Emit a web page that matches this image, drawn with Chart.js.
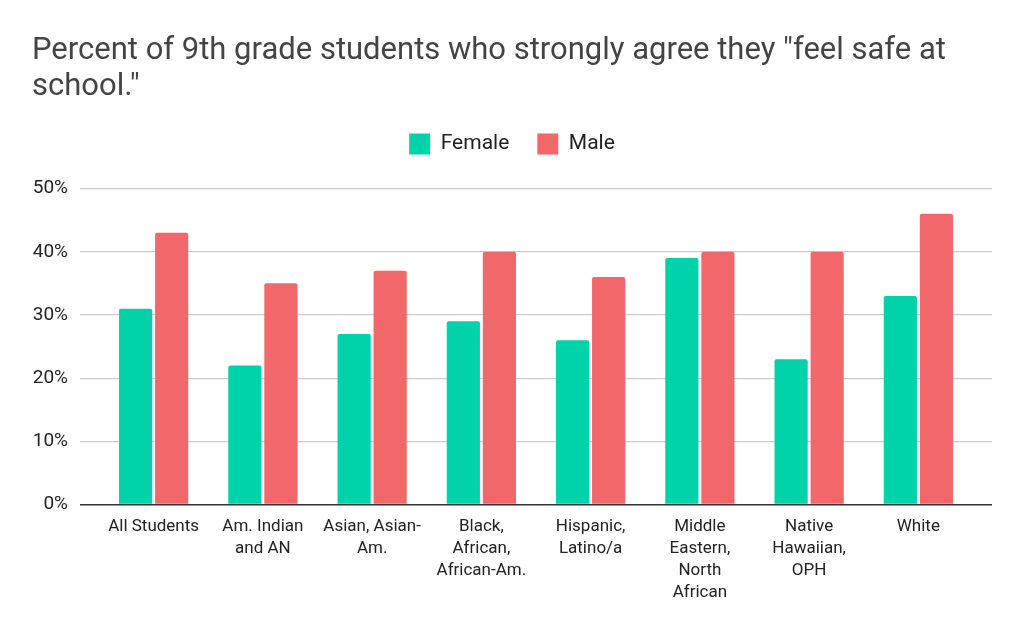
<!DOCTYPE html>
<html>
<head>
<meta charset="utf-8">
<script src="https://cdn.jsdelivr.net/npm/chart.js@4.4.1/dist/chart.umd.min.js"></script>
<style>
  html, body { margin: 0; padding: 0; background: #fff; }
  #wrap { width: 1024px; height: 633px; }
</style>
</head>
<body>
<div id="wrap"><canvas id="safeChart"></canvas></div>
<script>
const groups = [
  ['All Students'],
  ['Am. Indian', 'and AN'],
  ['Asian, Asian-', 'Am.'],
  ['Black,', 'African,', 'African-Am.'],
  ['Hispanic,', 'Latino/a'],
  ['Middle', 'Eastern,', 'North', 'African'],
  ['Native', 'Hawaiian,', 'OPH'],
  ['White']
];
const femaleValues = [31, 22, 27, 29, 26, 39, 23, 33];
const maleValues = [43, 35, 37, 40, 36, 40, 40, 46];
const yTicks = [0, 10, 20, 30, 40, 50];

const teal = '#00d3aa';
const coral = '#f1676a';

// x runs on a linear scale so the groups sit a bit in from the grid ends
const edge = 0.674;

// extra room under the legend
const legendGap = {
  id: 'legendGap',
  beforeLayout(chart) {
    const lg = chart.legend;
    if (lg && !lg._gap) {
      const fit = lg.fit;
      lg.fit = function () { fit.call(this); this.height += 24; };
      lg._gap = true;
    }
  }
};

new Chart('safeChart', {
  type: 'bar',
  data: {
    datasets: [{
      label: 'Female',
      data: femaleValues.map((v, i) => ({ x: i, y: v })),
      backgroundColor: teal,
      borderRadius: 2,
      borderSkipped: 'bottom'
    }, {
      label: 'Male',
      data: maleValues.map((v, i) => ({ x: i, y: v })),
      backgroundColor: coral,
      borderRadius: 2,
      borderSkipped: 'bottom'
    }]
  },
  plugins: [legendGap],
  options: {
    responsive: true,
    maintainAspectRatio: false,
    animation: false,
    categoryPercentage: 0.66,
    barPercentage: 0.92,
    layout: { padding: { left: 32, right: 32, top: 33, bottom: 26 } },
    plugins: {
      title: {
        display: true,
        align: 'start',
        text: ['Percent of 9th grade students who strongly agree they "feel safe at', 'school."'],
        color: '#444444',
        font: { family: 'Roboto', size: 31, weight: 'normal', lineHeight: 1.17 },
        padding: { top: 0, bottom: 0 }
      },
      legend: {
        position: 'top',
        labels: {
          boxWidth: 21,
          boxHeight: 21,
          padding: 28,
          color: '#222222',
          font: { family: 'Roboto', size: 21 }
        }
      },
      tooltip: { enabled: false }
    },
    scales: {
      x: {
        type: 'linear',
        offset: false,
        min: -edge,
        max: groups.length - 1 + edge,
        afterBuildTicks: (scale) => { scale.ticks = groups.map((g, i) => ({ value: i })); },
        grid: { display: false },
        border: { display: false },
        ticks: {
          autoSkip: false,
          maxRotation: 0,
          padding: 3,
          color: '#222222',
          font: { family: 'Roboto', size: 17, lineHeight: 1.3 },
          callback: (v) => groups[v]
        }
      },
      y: {
        min: 0,
        max: 50,
        afterFit: (scale) => { scale.width = 48; },
        afterBuildTicks: (scale) => { scale.ticks = yTicks.map(v => ({ value: v })); },
        grid: {
          drawTicks: false,
          color: (c) => c.tick.value === 0 ? '#333333' : '#cccccc',
          lineWidth: (c) => c.tick.value === 0 ? 1.6 : 1.2
        },
        border: { display: false },
        ticks: {
          padding: 12,
          color: '#222222',
          font: { family: 'Roboto', size: 19 },
          callback: (v) => v + '%'
        }
      }
    }
  }
});
</script>
</body>
</html>
